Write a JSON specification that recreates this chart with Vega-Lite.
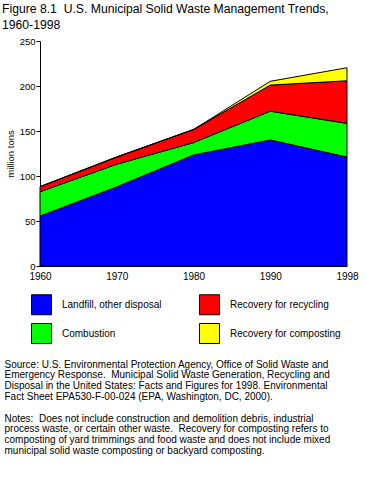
{
  "$schema": "https://vega.github.io/schema/vega-lite/v6.json",
  "autosize": {"type": "none"},
  "width": 307,
  "height": 225,
  "padding": {"left": 40, "top": 41, "right": 19, "bottom": 213},
  "background": "white",
  "config": {
    "font": "Liberation Sans",
    "view": {"stroke": null},
    "axis": {"labelColor": "black", "titleColor": "black", "domainColor": "black", "tickColor": "black", "grid": false, "labelFont": "Liberation Sans", "titleFont": "Liberation Sans"}
  },
  "title": {
    "text": ["Figure 8.1\u00a0\u00a0U.S. Municipal Solid Waste Management Trends,", "1960-1998"],
    "anchor": "start",
    "frame": "group",
    "orient": "top",
    "fontSize": 12.2,
    "fontWeight": "normal",
    "font": "Liberation Sans",
    "color": "black",
    "lineHeight": 15.5,
    "offset": 4,
    "dx": -38,
    "dy": -1
  },
  "data": {
    "values": [
      {"year": "1960", "type": "Landfill, other disposal", "tons": 55.5},
      {"year": "1960", "type": "Combustion", "tons": 27.0},
      {"year": "1960", "type": "Recovery for recycling", "tons": 5.6},
      {"year": "1960", "type": "Recovery for composting", "tons": 0},
      {"year": "1970", "type": "Landfill, other disposal", "tons": 88.0},
      {"year": "1970", "type": "Combustion", "tons": 25.1},
      {"year": "1970", "type": "Recovery for recycling", "tons": 8.0},
      {"year": "1970", "type": "Recovery for composting", "tons": 0},
      {"year": "1980", "type": "Landfill, other disposal", "tons": 123.4},
      {"year": "1980", "type": "Combustion", "tons": 13.7},
      {"year": "1980", "type": "Recovery for recycling", "tons": 14.5},
      {"year": "1980", "type": "Recovery for composting", "tons": 0},
      {"year": "1990", "type": "Landfill, other disposal", "tons": 140.1},
      {"year": "1990", "type": "Combustion", "tons": 31.9},
      {"year": "1990", "type": "Recovery for recycling", "tons": 29.0},
      {"year": "1990", "type": "Recovery for composting", "tons": 4.2},
      {"year": "1998", "type": "Landfill, other disposal", "tons": 121.1},
      {"year": "1998", "type": "Combustion", "tons": 37.4},
      {"year": "1998", "type": "Recovery for recycling", "tons": 47.3},
      {"year": "1998", "type": "Recovery for composting", "tons": 14.5}
    ]
  },
  "transform": [
    {"calculate": "indexof(['Landfill, other disposal','Combustion','Recovery for recycling','Recovery for composting'], datum.type)", "as": "stackOrder"}
  ],
  "mark": {"type": "area", "stroke": "black", "strokeWidth": 1, "opacity": 1, "fillOpacity": 1},
  "encoding": {
    "x": {
      "field": "year",
      "type": "ordinal",
      "scale": {"type": "point", "padding": 0},
      "axis": {
        "labelAngle": 0,
        "labelFontSize": 10,
        "labelPadding": 5,
        "ticks": false,
        "domainWidth": 1,
        "title": [
          "Source: U.S. Environmental Protection Agency, Office of Solid Waste and",
          "Emergency Response.\u00a0\u00a0Municipal Solid Waste Generation, Recycling and",
          "Disposal in the United States: Facts and Figures for 1998. Environmental",
          "Fact Sheet EPA530-F-00-024 (EPA, Washington, DC, 2000).",
          "\u200b",
          "Notes:\u00a0\u00a0Does not include construction and demolition debris, industrial",
          "process waste, or certain other waste.\u00a0\u00a0Recovery for composting refers to",
          "composting of yard trimmings and food waste and does not include mixed",
          "municipal solid waste composting or backyard composting."
        ],
        "titleFontSize": 10,
        "titleFontWeight": "normal",
        "titleLineHeight": 10.8,
        "titleAlign": "left",
        "titleAnchor": "start",
        "titleBaseline": "alphabetic",
        "titleX": -36,
        "titleY": 101
      }
    },
    "y": {
      "field": "tons",
      "type": "quantitative",
      "stack": "zero",
      "scale": {"domain": [0, 250], "nice": false},
      "axis": {
        "values": [0, 50, 100, 150, 200, 250],
        "labelFontSize": 9.5,
        "labelPadding": 1,
        "tickSize": 4,
        "title": "million tons",
        "titleFontSize": 9.5,
        "titleFontWeight": "normal",
        "titlePadding": 4
      }
    },
    "color": {
      "field": "type",
      "type": "nominal",
      "scale": {
        "domain": ["Landfill, other disposal", "Combustion", "Recovery for recycling", "Recovery for composting"],
        "range": ["#0000ff", "#00ff00", "#ff0000", "#ffff00"]
      },
      "legend": {
        "orient": "none",
        "legendX": -9,
        "legendY": 253,
        "columns": 2,
        "direction": "vertical",
        "title": null,
        "symbolType": "square",
        "symbolSize": 400,
        "symbolStrokeColor": "black",
        "symbolStrokeWidth": 1,
        "symbolOpacity": 1,
        "labelFontSize": 10,
        "labelColor": "black",
        "labelOffset": 10,
        "labelLimit": 250,
        "columnPadding": 35,
        "rowPadding": 4,
        "padding": 0,
        "offset": 0
      }
    },
    "order": {"field": "stackOrder", "type": "quantitative"}
  }
}
